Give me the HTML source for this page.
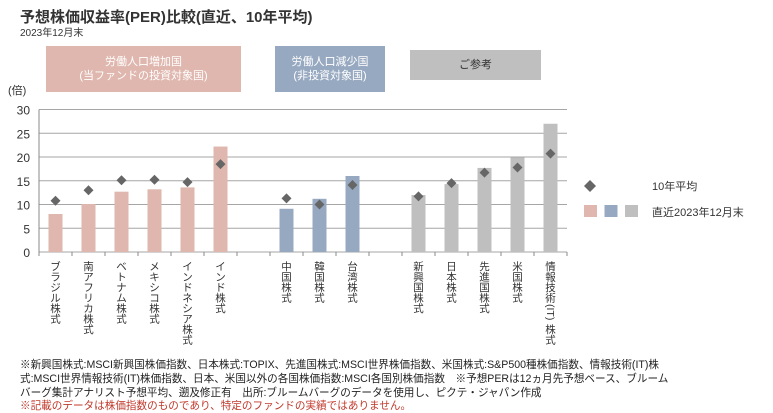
<!DOCTYPE html>
<html><head><meta charset="utf-8"><style>
body{margin:0;width:773px;height:412px;background:#fff;font-family:"Liberation Sans","Noto Sans CJK JP",sans-serif;position:relative;overflow:hidden}
.abs{position:absolute}
.box{position:absolute;color:#fff;font-size:11px;text-align:center;display:flex;align-items:center;justify-content:center;line-height:14px}
.foot{position:absolute;left:20px;font-size:10.6px;color:#222;white-space:nowrap}
</style></head><body>
<div class="abs" style="left:20px;top:6px;font-size:15px;font-weight:bold;color:#333">予想株価収益率(PER)比較(直近、10年平均)</div>
<div class="abs" style="left:20px;top:24px;font-size:10px;color:#333">2023年12月末</div>
<div class="box" style="left:46px;top:46px;width:195px;height:46px;background:#dfb7ae">労働人口増加国<br>(当ファンドの投資対象国)</div>
<div class="box" style="left:275px;top:46px;width:110px;height:46px;background:#97a9c0">労働人口減少国<br>(非投資対象国)</div>
<div class="box" style="left:410px;top:50px;width:131px;height:30px;background:#bfbfbf;color:#333">ご参考</div>
<svg class="abs" style="left:0;top:0" width="773" height="412" id="chart"></svg>
<div class="foot" style="top:357px">※新興国株式:MSCI新興国株価指数、日本株式:TOPIX、先進国株式:MSCI世界株価指数、米国株式:S&amp;P500種株価指数、情報技術(IT)株</div>
<div class="foot" style="top:371px">式:MSCI世界情報技術(IT)株価指数、日本、米国以外の各国株価指数:MSCI各国別株価指数　※予想PERは12ヵ月先予想ベース、ブルーム</div>
<div class="foot" style="top:385px">バーグ集計アナリスト予想平均、遡及修正有　出所:ブルームバーグのデータを使用し、ピクテ・ジャパン作成</div>
<div class="foot" style="top:398px;color:#c0392b">※記載のデータは株価指数のものであり、特定のファンドの実績ではありません。</div>
<script>
const categories=[["ブ","ラ","ジ","ル","株","式"],["南","ア","フ","リ","カ","株","式"],["ベ","ト","ナ","ム","株","式"],["メ","キ","シ","コ","株","式"],["イ","ン","ド","ネ","シ","ア","株","式"],["イ","ン","ド","株","式"],[],["中","国","株","式"],["韓","国","株","式"],["台","湾","株","式"],[],["新","興","国","株","式"],["日","本","株","式"],["先","進","国","株","式"],["米","国","株","式"],["情","報","技","術","(IT)","株","式"]];
const latest=[8.0,10.1,12.7,13.2,13.6,22.2,null,9.1,11.2,16.0,null,12.0,14.3,17.7,19.9,27.0];
const avg10=[10.8,13.0,15.1,15.2,14.7,18.5,null,11.3,10.0,14.1,null,11.7,14.5,16.7,17.8,20.7];
const groups=[0,0,0,0,0,0,-1,1,1,1,-1,2,2,2,2,2];
const yTicks=[0,5,10,15,20,25,30];
const colors=["#dfb7ae","#97a9c0","#bfbfbf"];
const svg=document.getElementById('chart');const NS="http://www.w3.org/2000/svg";
const x0=39,slot=33,y0=252,yTop=109.5,yMax=30;
const ys=v=>y0-(v/yMax)*(y0-yTop);const xc=i=>x0+slot*(i+0.5);
function mk(t,a){const e=document.createElementNS(NS,t);for(const k in a)e.setAttribute(k,a[k]);svg.appendChild(e);return e;}
let t=mk('text',{x:8,y:94,'font-size':11,fill:'#333'});t.textContent='(倍)';


yTicks.forEach(v=>{
 const g=mk('line',{x1:x0,x2:x0+slot*16,y1:ys(v),y2:ys(v),stroke:'#a6a6a6','stroke-width':1});
 
 
 const l=mk('text',{x:30,y:ys(v)+5,'font-size':12,fill:'#333','text-anchor':'end'});l.textContent=v;
 
 
});
mk('line',{x1:x0,x2:x0,y1:yTop,y2:y0,stroke:'#888'});
for(let i=0;i<=16;i++){mk('line',{x1:x0+slot*i,x2:x0+slot*i,y1:y0,y2:y0+4,stroke:'#888'});}
categories.forEach((c,i)=>{
 if(latest[i]!=null){
  const b=mk('rect',{x:xc(i)-7,y:ys(latest[i]),width:14,height:y0-ys(latest[i]),fill:colors[groups[i]]});
  
  
 }
 if(avg10[i]!=null){
  const cx=xc(i),cy=ys(avg10[i]);
  const d=mk('polygon',{points:`${cx},${cy-5} ${cx+5},${cy} ${cx},${cy+5} ${cx-5},${cy}`,fill:'#666'});
  
  
 }
 let yy=y0+18;
 c.forEach(ch=>{
  let tx;
  if(ch.length>1){
   tx=mk('text',{x:xc(i),y:yy-8,'font-size':10.5,fill:'#333','text-anchor':'start',transform:`rotate(90 ${xc(i)} ${yy-8})`,dy:'0.35em'});
   tx.textContent=ch;yy+=21;
  }else{
   tx=mk('text',{x:xc(i),y:yy,'font-size':10.5,fill:'#333','text-anchor':'middle'});
   tx.textContent=ch;yy+=10.5;
  }
  
  
 });
});
const ld=mk('polygon',{points:'590,180 596,186 590,192 584,186',fill:'#666'});


let lt=mk('text',{x:652,y:190,'font-size':11,fill:'#333'});lt.textContent='10年平均';


colors.forEach((c,k)=>{const r=mk('rect',{x:584+k*20.5,y:205,width:13,height:12,fill:c});
 
 });
lt=mk('text',{x:652,y:216,'font-size':11,fill:'#333'});lt.textContent='直近2023年12月末';


</script>
</body></html>
